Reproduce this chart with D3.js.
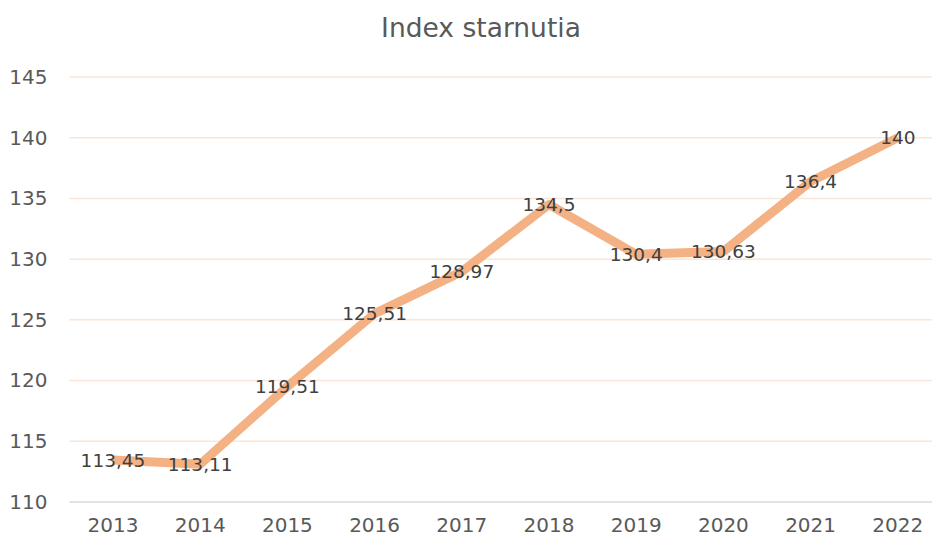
<!DOCTYPE html>
<html>
<head>
<meta charset="utf-8">
<script src="https://cdn.jsdelivr.net/npm/d3@7"></script>
<style>
	html, body { margin: 0; padding: 0; background: #fff; overflow: hidden; }
	svg { display: block; }
	text { font-family: "DejaVu Sans", sans-serif; }
</style>
</head>
<body>
<div id="chart"></div>
<script>
// chart data
const years = ['2013','2014','2015','2016','2017','2018','2019','2020','2021','2022'];
const values = [113.45, 113.11, 119.51, 125.51, 128.97, 134.5, 130.4, 130.63, 136.4, 140];
const valueLabels = ['113,45','113,11','119,51','125,51','128,97','134,5','130,4','130,63','136,4','140'];
const yTicks = [110, 115, 120, 125, 130, 135, 140, 145];
const title = 'Index starnutia';

const width = 932,
	height = 543,
	margin = {top: 77, right: -9.4, bottom: 41, left: 69.4},
	innerWidth = width - margin.left - margin.right,
	innerHeight = height - margin.top - margin.bottom;

const svg = d3.select('#chart')
	.append('svg')
	.attr('width', width)
	.attr('height', height);

svg.append('text')
	.attr('x', 481)
	.attr('y', 37)
	.attr('text-anchor', 'middle')
	.style('font-size', '26.5px')
	.style('fill', '#595959')
	.text(title);

const chartInner = svg.append('g')
	.attr('transform', `translate(${margin.left},${margin.top})`);

const x = d3.scaleBand()
	.domain(years)
	.range([0, innerWidth]);

const y = d3.scaleLinear()
	.domain([110, 145])
	.range([innerHeight, 0]);

const gridEnd = width - margin.left;

// gridlines
chartInner.selectAll('.grid')
	.data(yTicks.filter(d => d !== 110))
	.enter()
	.append('line')
	.attr('x1', 0)
	.attr('x2', gridEnd)
	.attr('y1', d => y(d))
	.attr('y2', d => y(d))
	.style('stroke', '#FBE5D6')
	.style('stroke-width', 1.5);

// baseline
chartInner.append('line')
	.attr('x1', 0)
	.attr('x2', gridEnd)
	.attr('y1', y(110))
	.attr('y2', y(110))
	.style('stroke', '#D9D9D9')
	.style('stroke-width', 1.5);

// y axis labels
const yAxis = d3.axisLeft(y)
	.tickValues(yTicks)
	.tickSize(0)
	.tickPadding(22);

chartInner.append('g')
	.call(yAxis)
	.call(g => g.select('.domain').remove())
	.selectAll('text')
	.style('font-size', '20px')
	.style('fill', '#595959');

// x axis labels
const xAxis = d3.axisBottom(x)
	.tickSize(0)
	.tickPadding(16);

chartInner.append('g')
	.attr('transform', `translate(0,${innerHeight})`)
	.call(xAxis)
	.call(g => g.select('.domain').remove())
	.selectAll('text')
	.style('font-size', '20px')
	.style('fill', '#595959');

const line = d3.line()
	.x((d, i) => x(years[i]) + x.bandwidth() / 2)
	.y(d => y(d));

chartInner.append('path')
	.datum(values)
	.attr('d', line)
	.style('fill', 'none')
	.style('stroke', '#F4B183')
	.style('stroke-width', 9)
	.style('stroke-linejoin', 'round');

chartInner.selectAll('.label')
	.data(values)
	.enter()
	.append('text')
	.attr('x', (d, i) => x(years[i]) + x.bandwidth() / 2)
	.attr('y', d => y(d))
	.attr('dy', '0.35em')
	.attr('text-anchor', 'middle')
	.style('font-size', '18.5px')
	.style('fill', '#404040')
	.text((d, i) => valueLabels[i]);
</script>
</body>
</html>
